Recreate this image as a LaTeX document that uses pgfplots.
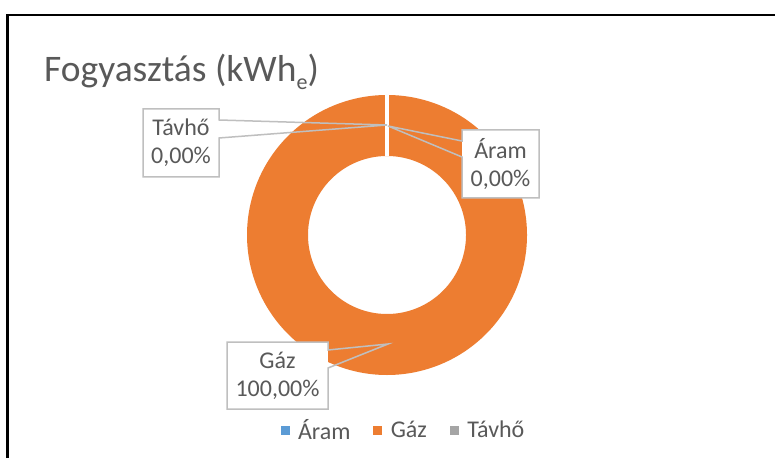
\documentclass[border=0pt]{standalone}
\usepackage{fontspec}
\setmainfont{Carlito}
\usepackage{pgfplots}
\usepackage{pgfplotstable}
\pgfplotsset{compat=1.18}
\definecolor{gazorange}{HTML}{ED7D31}
\definecolor{aramblue}{HTML}{5B9BD5}
\definecolor{tavhogrey}{HTML}{A5A5A5}
\definecolor{textgrey}{HTML}{595959}
\definecolor{boxgrey}{HTML}{BFBFBF}

\pgfplotstableread[col sep=comma]{
nev,ertek
Aram,0
Gaz,100
Tavho,0
}\fogy

\begin{document}
\begin{tikzpicture}
\pgfplotstablegetelem{0}{ertek}\of\fogy \let\aram\pgfplotsretval
\pgfplotstablegetelem{1}{ertek}\of\fogy \let\gaz\pgfplotsretval
\pgfplotstablegetelem{2}{ertek}\of\fogy \let\tavho\pgfplotsretval
\pgfmathsetmacro\total{\aram+\gaz+\tavho}
\pgfmathsetmacro\fStart{(\aram+\gaz)/\total}
\pgfmathsetmacro\fEnd{\aram/\total}
\pgfmathsetmacro\aStart{90-360*\fStart}
\pgfmathsetmacro\aEnd{90-360*\fEnd}
\begin{axis}[
  x=1pt, y=1pt,
  xmin=0, xmax=775, ymin=0, ymax=458,
  hide axis, clip=false,
  legend style={at={(axis cs:402.5,28)}, anchor=center, draw=none, fill=none,
    font=\fontsize{24}{28}\selectfont\color{textgrey}, inner sep=0pt,
    nodes={inner sep=0pt},
    /tikz/every odd column/.append style={column sep=9pt},
    /tikz/every even column/.append style={column sep=23pt}},
  legend columns=-1,
  legend cell align=left,
  legend image code/.code={\fill[#1] (0pt,-4pt) rectangle (8pt,4pt);},
]
% background / bounding box
\fill[white] (axis cs:0,0) rectangle (axis cs:775,458);
\coordinate (bl) at (axis cs:0,0);
\coordinate (tr) at (axis cs:775,458);
% frame
\draw[line width=2.2pt, black] (axis cs:7.5,0) -- (axis cs:7.5,443) -- (axis cs:775,443);

% donut ring (Gaz slice)
\addplot[gazorange, line width=61pt, domain=\aStart:\aEnd, samples=361, forget plot]
  ({387+109.5*cos(x)},{223+109.5*sin(x)});
% slice borders
\addplot[white, line width=4pt, domain=79:140, samples=2, forget plot]
  ({387+x*cos(\aEnd)},{223+x*sin(\aEnd)});

% title
\node[anchor=base west, text=textgrey, font=\fontsize{37.5}{44}\selectfont, inner sep=0pt]
  at (axis cs:44,376) {Fogyasztás (kWh\raisebox{-8pt}{\fontsize{22}{22}\selectfont e})};

% callouts
\fill[white] (axis cs:143,349) rectangle (axis cs:219,281);
\draw[boxgrey, line width=1.5pt, line join=miter]
  (axis cs:143,349) -- (axis cs:219,349) -- (axis cs:219,338) -- (axis cs:387,333)
  -- (axis cs:219,320) -- (axis cs:219,281) -- (axis cs:143,281) -- cycle;
\fill[white] (axis cs:462,328) rectangle (axis cs:539,260);
\draw[boxgrey, line width=1.5pt, line join=miter]
  (axis cs:462,328) -- (axis cs:539,328) -- (axis cs:539,260) -- (axis cs:462,260)
  -- (axis cs:462,301) -- (axis cs:388,332) -- (axis cs:462,317) -- cycle;
\fill[white] (axis cs:227,116) rectangle (axis cs:328,49);
\draw[boxgrey, line width=1.5pt, line join=miter]
  (axis cs:227,116) -- (axis cs:328,116) -- (axis cs:328,108) -- (axis cs:388,114)
  -- (axis cs:328,90) -- (axis cs:328,49) -- (axis cs:227,49) -- cycle;

\node[align=center, text=textgrey, font=\fontsize{24}{28}\selectfont, inner sep=0pt]
  at (axis cs:181,315) {Távhő\\0,00\%};
\node[align=center, text=textgrey, font=\fontsize{24}{28}\selectfont, inner sep=0pt]
  at (axis cs:500.5,294) {Áram\\0,00\%};
\node[align=center, text=textgrey, font=\fontsize{24}{28}\selectfont, inner sep=0pt]
  at (axis cs:277.5,82.5) {Gáz\\100,00\%};

% legend
\addlegendimage{aramblue}
\addlegendentry{Áram}
\addlegendimage{gazorange}
\addlegendentry{Gáz}
\addlegendimage{tavhogrey}
\addlegendentry{Távhő}
\end{axis}
\pgfresetboundingbox
\path[use as bounding box] (bl) rectangle (tr);
\end{tikzpicture}
\end{document}
